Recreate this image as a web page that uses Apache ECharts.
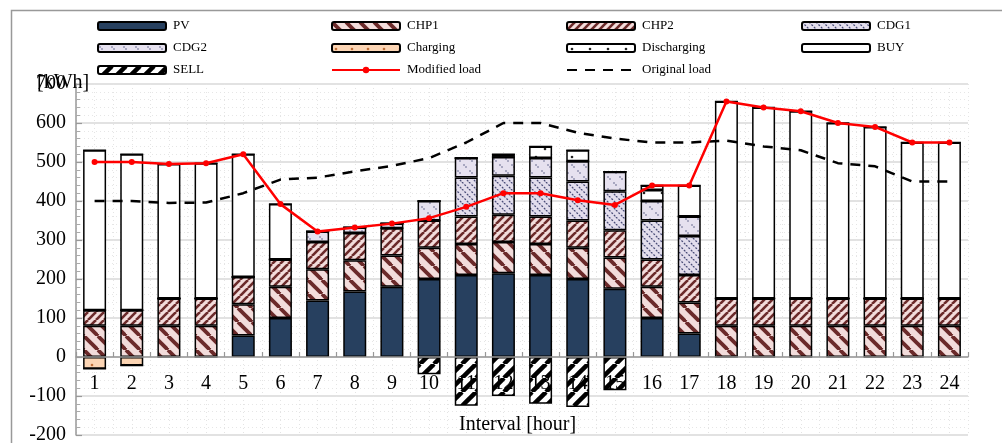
<!DOCTYPE html>
<html>
<head>
<meta charset="utf-8">
<script src="https://cdn.jsdelivr.net/npm/echarts@6/dist/echarts.min.js"></script>
<style>
  html, body { margin: 0; padding: 0; background: #fff; }
  #chart { width: 1002px; height: 443px; }
</style>
</head>
<body>
<div id="chart"></div>
<script>
// Hourly energy balance: supply stack per interval, plus modified and original load
const categories = ['1','2','3','4','5','6','7','8','9','10','11','12','13','14','15','16','17','18','19','20','21','22','23','24'];
const pv          = [0, 0, 0, 0, 55, 100, 145, 168, 180, 200, 210, 215, 210, 200, 175, 100, 60, 0, 0, 0, 0, 0, 0, 0];
const chp1        = [80, 80, 80, 80, 80, 80, 80, 80, 80, 80, 80, 80, 80, 80, 80, 80, 80, 80, 80, 80, 80, 80, 80, 80];
const chp2        = [40, 40, 70, 70, 70, 70, 70, 70, 70, 70, 70, 70, 70, 70, 70, 70, 70, 70, 70, 70, 70, 70, 70, 70];
const cdg1        = [0, 0, 0, 0, 0, 0, 0, 0, 0, 0, 100, 100, 100, 100, 100, 100, 100, 0, 0, 0, 0, 0, 0, 0];
const cdg2        = [0, 0, 0, 0, 0, 0, 27, 14, 12, 50, 50, 48, 50, 52, 50, 50, 50, 0, 0, 0, 0, 0, 0, 0];
const charging    = [-30, -22, 0, 0, 0, 0, 0, 0, 0, 0, 0, 0, 0, 0, 0, 0, 0, 0, 0, 0, 0, 0, 0, 0];
const discharging = [0, 0, 0, 0, 0, 0, 0, 0, 0, 0, 0, 7, 30, 28, 0, 28, 0, 0, 0, 0, 0, 0, 0, 0];
const buy         = [410, 400, 345, 347, 315, 142, 0, 0, 0, 0, 0, 0, 0, 0, 0, 12, 80, 505, 490, 480, 450, 440, 400, 400];
const sell        = [0, 0, 0, 0, 0, 0, 0, 0, 0, -44, -125, -100, -120, -128, -85, 0, 0, 0, 0, 0, 0, 0, 0, 0];
const modifiedLoad = [500, 500, 495, 497, 520, 392, 322, 332, 342, 356, 385, 420, 420, 402, 390, 440, 440, 655, 640, 630, 600, 590, 550, 550];
const originalLoad = [400, 400, 395, 396, 420, 455, 460, 476, 490, 510, 550, 600, 600, 575, 560, 550, 550, 555, 540, 530, 497, 489, 450, 450];
const yTicks = { min: -200, max: 700, step: 100 };

const FONT = '"Liberation Serif", "Times New Roman", serif';

// Plot rectangle
const GRID = { left: 76, right: 34, top: 84, bottom: 8 };
const plotHeight = 443 - GRID.top - GRID.bottom;
// Lift the horizontal axis from the bottom edge up to the zero line
const zeroOffset = -plotHeight * (0 - yTicks.min) / (yTicks.max - yTicks.min);

// Canvas tile fills for the hatched bar segments
function tile(size, bg, draw) {
  const c = document.createElement('canvas');
  c.width = c.height = size;
  const ctx = c.getContext('2d');
  ctx.fillStyle = bg;
  ctx.fillRect(0, 0, size, size);
  draw(ctx, size);
  return { image: c, repeat: 'repeat' };
}
function back(ctx, s, color, w) { // "\" stripes
  ctx.strokeStyle = color; ctx.lineWidth = w;
  for (const a of [-s, 0, s]) { ctx.beginPath(); ctx.moveTo(a, 0); ctx.lineTo(a + s, s); ctx.stroke(); }
}
function fwd(ctx, s, color, w) { // "/" stripes
  ctx.strokeStyle = color; ctx.lineWidth = w;
  for (const a of [-s, 0, s]) { ctx.beginPath(); ctx.moveTo(a, s); ctx.lineTo(a + s, 0); ctx.stroke(); }
}
function dots(ctx, pts, color, r) {
  ctx.fillStyle = color;
  for (const [x, y] of pts) { ctx.beginPath(); ctx.arc(x, y, r, 0, Math.PI * 2); ctx.fill(); }
}

const fills = {
  pv: '#27405f',
  chp1: tile(14, '#f2dcdb', (c, s) => back(c, s, '#6b2a2a', 3.8)),
  chp2: tile(8, '#f2dcdb', (c, s) => fwd(c, s, '#6b2a2a', 2.6)),
  cdg1: tile(7, '#e2ddec', (c, s) => { c.setLineDash([2, 1.5]); back(c, s, '#4a4d78', 1.3); }),
  cdg2: tile(12, '#e6e1ef', (c, s) => dots(c, [[2, 3], [4, 5], [8, 9], [10, 11]], '#5a5d85', 0.8)),
  charging: tile(16, '#fcd5b4', (c, s) => dots(c, [[4, 5], [12, 13]], '#c0703a', 1.3)),
  discharging: tile(18, '#ffffff', (c, s) => dots(c, [[5, 5], [14, 13]], '#222', 1.3)),
  buy: '#ffffff',
  sell: tile(14, '#ffffff', (c, s) => fwd(c, s, '#000', 4.5))
};

function bar(name, data, color) {
  return {
    name, type: 'bar', stack: 'total', data, barWidth: 23,
    itemStyle: { color, borderColor: '#000', borderWidth: 1.5 },
    emphasis: { disabled: true }, z: 2
  };
}

const series = [
  bar('PV', pv, fills.pv),
  bar('CHP1', chp1, fills.chp1),
  bar('CHP2', chp2, fills.chp2),
  bar('CDG1', cdg1, fills.cdg1),
  bar('CDG2', cdg2, fills.cdg2),
  bar('Charging', charging, fills.charging),
  bar('Discharging', discharging, fills.discharging),
  bar('BUY', buy, fills.buy),
  bar('SELL', sell, fills.sell),
  {
    name: 'Modified load', type: 'line', data: modifiedLoad, z: 5,
    symbol: 'circle', symbolSize: 6,
    lineStyle: { color: '#ff0000', width: 2.5 },
    itemStyle: { color: '#ff0000' }
  },
  {
    name: 'Original load', type: 'line', data: originalLoad, z: 4,
    symbol: 'none',
    lineStyle: { color: '#000', width: 2.5, type: [10, 8] },
    itemStyle: { color: '#000' }
  }
];

function legendCol(left, names) {
  return {
    orient: 'vertical', left, top: 19, padding: 0, itemWidth: 68, itemHeight: 8, itemGap: 8,
    data: names.map(n => n === 'Original load' ? { name: n, itemStyle: { opacity: 0 } } : n),
    selectedMode: false,
    textStyle: { fontFamily: FONT, fontSize: 13, color: '#000', lineHeight: 14, padding: [0, 0, 0, 2] }
  };
}

const chart = echarts.init(document.getElementById('chart'), null, { renderer: 'canvas' });
chart.setOption({
  animation: false,
  backgroundColor: '#fff',
  legend: [
    legendCol(97, ['PV', 'CDG2', 'SELL']),
    legendCol(331, ['CHP1', 'Charging', 'Modified load']),
    legendCol(566, ['CHP2', 'Discharging', 'Original load']),
    legendCol(801, ['CDG1', 'BUY'])
  ],
  grid: Object.assign({ containLabel: false, outerBoundsMode: 'none' }, GRID),
  xAxis: [
    {
      type: 'category', data: categories, boundaryGap: true,
      position: 'bottom', offset: zeroOffset, z: 3,
      axisLine: { onZero: false, lineStyle: { color: '#999', width: 1.5 } },
      axisTick: { show: false },
      axisLabel: { fontFamily: FONT, fontSize: 20, color: '#000', margin: 17 },
      splitLine: { show: false }
    },
    {
      // half-interval ticks and the faint vertical dotted grid
      type: 'value', min: 0, max: 48, interval: 1,
      position: 'bottom', offset: zeroOffset,
      axisLine: { show: false, onZero: false },
      axisTick: { show: true, inside: true, length: 5, lineStyle: { color: '#999', width: 1.2 } },
      axisLabel: { show: false },
      splitLine: { show: true, lineStyle: { color: '#e4e4e4', type: [1, 3], width: 1 } }
    }
  ],
  yAxis: {
    type: 'value', min: yTicks.min, max: yTicks.max, interval: yTicks.step,
    axisLine: { show: true, onZero: false, lineStyle: { color: '#999', width: 1.5 } },
    axisTick: { show: true, inside: true, length: 6, lineStyle: { color: '#999', width: 1.2 } },
    minorTick: { show: true, splitNumber: 5, length: 4, lineStyle: { color: '#aaa', width: 1 } },
    axisLabel: { fontFamily: FONT, fontSize: 20, color: '#000', margin: 10 },
    splitLine: { show: true, lineStyle: { color: '#d9d9d9', width: 1.5 } },
    minorSplitLine: { show: true, lineStyle: { color: '#e6e6e6', type: [1, 3], width: 1 } }
  },
  graphic: [
    { type: 'rect', left: 9, top: 8, shape: { width: 1000, height: 440 }, style: { fill: 'none', stroke: '#999', lineWidth: 1.5 }, silent: true, z: -1 },
    { type: 'text', left: 37, top: 73, style: { text: '[kWh]', font: '20px ' + FONT, fill: '#000' }, z: 10 },
    { type: 'text', left: 459, top: 415, style: { text: 'Interval [hour]', font: '20px ' + FONT, fill: '#000' }, z: 10 }
  ],
  series
});
</script>
</body>
</html>
